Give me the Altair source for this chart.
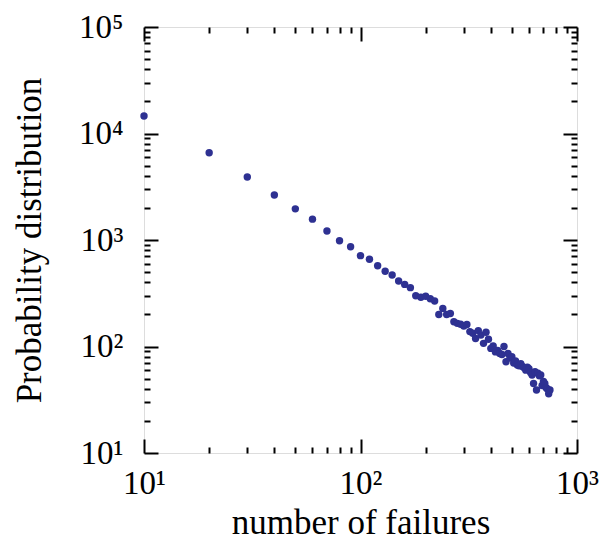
import altair as alt
import pandas as pd

# ---- data ----
failures = [10, 20, 30, 40, 50, 60, 70, 80, 90, 100,
            110, 120, 130, 140, 150, 160, 170, 180, 190, 200,
            210, 220, 230, 240, 250, 260, 270, 280, 290, 300,
            310, 320, 330, 340, 350, 360, 370, 380, 390, 400,
            410, 420, 430, 440, 450, 460, 470, 480, 490, 500,
            510, 520, 530, 540, 550, 560, 570, 580, 590, 600,
            610, 620, 630, 640, 650, 660, 670, 680, 690, 700,
            710, 720, 730, 740, 750]
probability = [14600, 6600, 3900, 2650, 1960, 1570, 1215, 985, 865, 713,
               659, 574, 508, 469, 412, 383, 357, 300, 290, 296,
               281, 267, 200, 228, 200, 204, 171, 165, 162, 156,
               161, 138, 133, 119, 141, 128, 107, 136, 117, 96,
               101, 89, 92, 86, 84, 100, 72, 86, 78, 80,
               70, 73, 67, 66, 69, 65, 63, 60, 64, 62,
               57, 54, 45, 58, 39, 56, 53, 54, 43, 47,
               45, 41, 40, 36, 39]

x_major = [10, 100, 1000]
x_major_labels = ["10¹", "10²", "10³"]
y_major = [10, 100, 1000, 10000, 100000]
y_major_labels = ["10¹", "10²", "10³", "10⁴", "10⁵"]
x_minor = [20, 30, 40, 50, 60, 70, 80, 90,
           200, 300, 400, 500, 600, 700, 800, 900]
y_minor = [20, 30, 40, 50, 60, 70, 80, 90,
           200, 300, 400, 500, 600, 700, 800, 900,
           2000, 3000, 4000, 5000, 6000, 7000, 8000, 9000,
           20000, 30000, 40000, 50000, 60000, 70000, 80000, 90000]

df = pd.DataFrame({"failures": failures, "probability": probability})

FONT = "Liberation Serif"
W, H = 433, 426
COLOR = "#2E3192"


def label_expr(vals, labels):
    expr = "''"
    for v, l in reversed(list(zip(vals, labels))):
        expr = f"datum.value == {v} ? '{l}' : ({expr})"
    return expr


def tick_size(majors):
    test = "indexof([" + ",".join(str(v) for v in majors) + "], datum.value) >= 0"
    return {"condition": {"test": test, "value": 14}, "value": 6}


xs = alt.Scale(type="log", domain=[10, 1000], nice=False)
ys = alt.Scale(type="log", domain=[10, 100000], nice=False)

common_lab = dict(labelFont=FONT, labelFontSize=33, labelColor="black",
                  titleFont=FONT, titleFontSize=35, titleFontWeight="normal",
                  titleColor="black", grid=False, domain=False, ticks=False,
                  labelOverlap=False, labelFlush=False)

points = alt.Chart(df).mark_circle(size=55, color=COLOR, opacity=1).encode(
    x=alt.X("failures:Q", scale=xs,
            axis=alt.Axis(orient="bottom", values=x_major,
                          labelExpr=label_expr(x_major, x_major_labels),
                          labelPadding=14, title="number of failures",
                          titlePadding=5, **common_lab)),
    y=alt.Y("probability:Q", scale=ys,
            axis=alt.Axis(orient="left", values=y_major,
                          labelExpr=label_expr(y_major, y_major_labels),
                          labelPadding=21, title="Probability distribution",
                          titlePadding=31, **common_lab)),
)

tick_common = dict(labels=False, domain=False, grid=False, ticks=True,
                   tickWidth=2, tickColor="black", title=None)

ticks_a = alt.Chart(df).mark_circle(opacity=0).encode(
    x=alt.X("failures:Q", scale=xs,
            axis=alt.Axis(orient="top", offset=-H, values=x_major + x_minor,
                          tickSize=tick_size(x_major), **tick_common)),
    y=alt.Y("probability:Q", scale=ys,
            axis=alt.Axis(orient="right", offset=-W, values=y_major + y_minor,
                          tickSize=tick_size(y_major), **tick_common)),
)

ticks_b = alt.Chart(df).mark_circle(opacity=0).encode(
    x=alt.X("failures:Q", scale=xs,
            axis=alt.Axis(orient="bottom", offset=-H, values=x_major + x_minor,
                          tickSize=tick_size(x_major), **tick_common)),
    y=alt.Y("probability:Q", scale=ys,
            axis=alt.Axis(orient="left", offset=-W, values=y_major + y_minor,
                          tickSize=tick_size(y_major), **tick_common)),
)

chart = (
    alt.layer(points, ticks_a, ticks_b)
    .resolve_axis(x="independent", y="independent")
    .properties(width=W, height=H,
                autosize=alt.AutoSizeParams(type="none"),
                padding={"left": 136, "top": 19, "right": 25, "bottom": 87})
    .configure_view(stroke="black", strokeWidth=2.5)
    .configure(background="white")
)

chart.save("out.html", embed_options={"renderer": "svg", "actions": False})
